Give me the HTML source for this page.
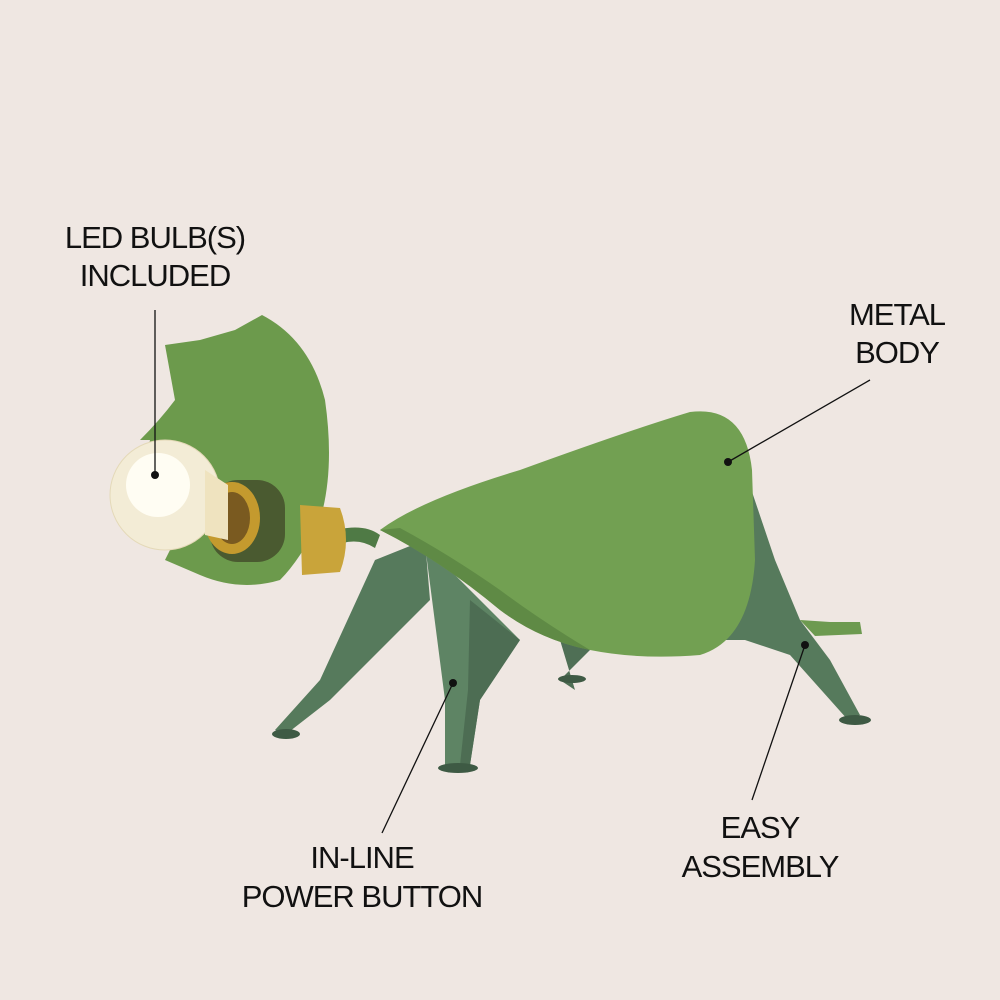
<!DOCTYPE html>
<html><head><meta charset="utf-8"><style>
html,body{margin:0;padding:0;background:#efe7e2;}
svg{display:block}
text{font-family:"Liberation Sans",sans-serif;font-size:31px;fill:#111;letter-spacing:-1px}
</style></head><body>
<svg width="1000" height="1000" viewBox="0 0 1000 1000">
<rect width="1000" height="1000" fill="#efe7e2"/>
<path d="M560,640 L575,690 L560,680 L600,640 Z" fill="#4f6f55"/>
<ellipse cx="572" cy="679" rx="14" ry="4" fill="#3e5a44"/>
<path d="M375,560 L425,540 L430,600 L330,700 L285,735 L275,730 L320,680 Z" fill="#567a5c"/>
<ellipse cx="286" cy="734" rx="14" ry="5" fill="#3e5a44"/>
<path d="M425,545 L520,640 L480,700 L470,765 L445,768 L445,700 Z" fill="#5e8464"/>
<path d="M470,600 L520,640 L480,700 L470,765 L460,765 L468,690 Z" fill="#4d6d53"/>
<ellipse cx="458" cy="768" rx="20" ry="5" fill="#3e5a44"/>
<path d="M748,480 L775,560 L800,620 L830,660 L860,715 L848,720 L790,655 L745,640 L705,640 L745,560 Z" fill="#567a5c"/>
<path d="M800,620 L830,622 L860,622 L862,634 L815,636 Z" fill="#6d9a50"/>
<ellipse cx="855" cy="720" rx="16" ry="5" fill="#3e5a44"/>
<path d="M320,535 Q360,520 380,535 L375,548 Q355,535 330,548 Z" fill="#4f7a45"/>
<path d="M380,530 Q420,500 520,470 Q630,430 690,412 Q745,405 752,470 L755,560 Q750,640 700,655 Q640,660 590,650 Q540,640 500,610 Q440,560 380,530 Z" fill="#72a052"/>
<path d="M380,530 Q440,560 500,610 Q540,640 590,650 Q540,620 500,590 Q450,555 400,528 Z" fill="#5f8a45"/>
<path d="M165,345 L200,340 L235,330 L262,315 Q310,340 325,400 Q335,470 320,520 Q300,560 280,580 Q240,592 200,575 L165,560 L175,540 L160,520 Q140,480 150,440 L140,440 Q160,420 175,400 Z" fill="#6c9a4c"/>
<path d="M300,505 L340,508 Q352,540 340,572 L302,575 Z" fill="#c9a43a"/>
<rect x="210" y="480" width="75" height="82" rx="28" fill="#4a5a30"/>
<ellipse cx="232" cy="518" rx="28" ry="36" fill="#c49a2e"/>
<ellipse cx="232" cy="518" rx="18" ry="26" fill="#7a5a20"/>
<circle cx="165" cy="495" r="55" fill="#f3ecd6" stroke="#e4d9b8" stroke-width="1"/>
<circle cx="158" cy="485" r="32" fill="#fffdf3"/>
<path d="M205,470 L228,485 L228,540 L205,535 Z" fill="#efe3bf"/>
<g stroke="#111" stroke-width="1.3" fill="none">
<line x1="155" y1="310" x2="155" y2="475"/>
<line x1="870" y1="380" x2="728" y2="462"/>
<line x1="382" y1="833" x2="453" y2="683"/>
<line x1="752" y1="800" x2="805" y2="645"/>
</g>
<g fill="#111">
<circle cx="155" cy="475" r="4"/>
<circle cx="728" cy="462" r="4"/>
<circle cx="453" cy="683" r="4"/>
<circle cx="805" cy="645" r="4"/>
</g>
<text x="155" y="248" text-anchor="middle">LED BULB(S)</text>
<text x="155" y="286" text-anchor="middle">INCLUDED</text>
<text x="897" y="325" text-anchor="middle">METAL</text>
<text x="897" y="363" text-anchor="middle">BODY</text>
<text x="362" y="868" text-anchor="middle">IN-LINE</text>
<text x="362" y="907" text-anchor="middle">POWER BUTTON</text>
<text x="760" y="838" text-anchor="middle">EASY</text>
<text x="760" y="877" text-anchor="middle">ASSEMBLY</text>
</svg>
</body></html>
